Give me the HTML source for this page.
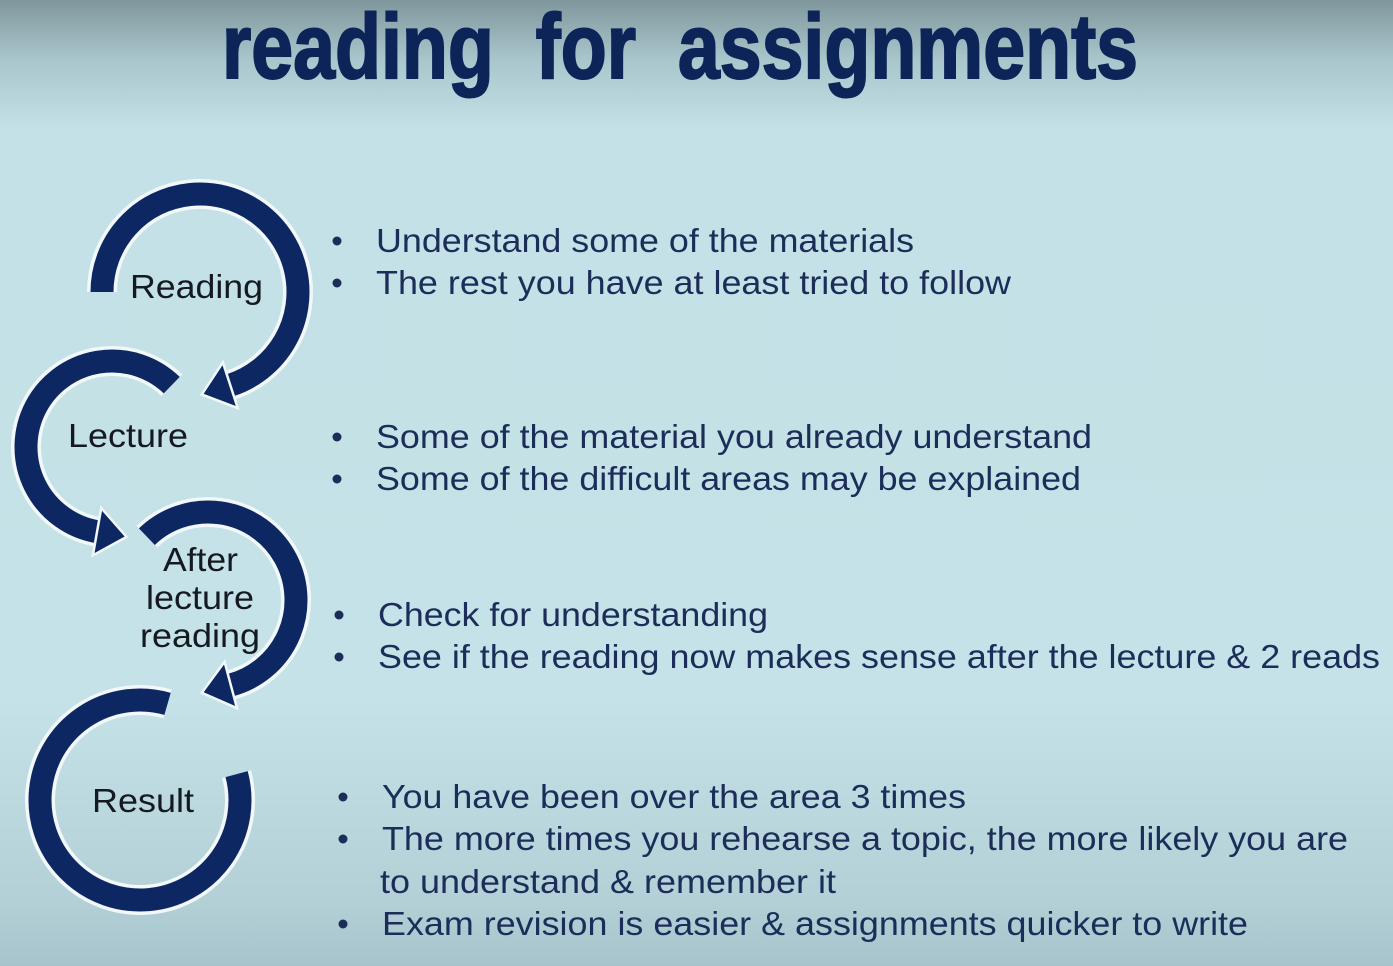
<!DOCTYPE html>
<html><head><meta charset="utf-8"><style>
html,body{margin:0;padding:0;width:1393px;height:966px;overflow:hidden}
body{background:linear-gradient(180deg,#7f979c 0px,#a9c6cc 60px,#c3e1e6 130px,#c4e2e7 700px,#b3d0d7 900px,#a7c4cc 966px)}
svg{position:absolute;left:0;top:0}
.b{font-family:"Liberation Sans",sans-serif;font-size:33px;fill:#1b2d58}
.l{font-family:"Liberation Sans",sans-serif;font-size:33px;fill:#151a22}
</style></head><body>
<svg width="1393" height="966">
<text x="222" y="78" textLength="916" lengthAdjust="spacingAndGlyphs" style="font-family:'Liberation Sans Narrow','Liberation Sans',sans-serif;font-weight:bold;font-size:92px;fill:#0c2458;stroke:#0c2458;stroke-width:2">reading&#160;&#160;for&#160;&#160;assignments</text>
<g id="arcs"></g>
<text class="l" x="130" y="298" textLength="133" lengthAdjust="spacingAndGlyphs">Reading</text>
<text class="l" x="68" y="447" textLength="120" lengthAdjust="spacingAndGlyphs">Lecture</text>
<text class="l" x="163" y="571" textLength="75" lengthAdjust="spacingAndGlyphs">After</text>
<text class="l" x="146" y="609" textLength="108" lengthAdjust="spacingAndGlyphs">lecture</text>
<text class="l" x="140" y="647" textLength="120" lengthAdjust="spacingAndGlyphs">reading</text>
<text class="l" x="92" y="812" textLength="102" lengthAdjust="spacingAndGlyphs">Result</text>
<g id="bullets"></g>
</svg>
<script>
const NS='http://www.w3.org/2000/svg';
const lines=[
["Understand some of the materials",252,376,538,true],
["The rest you have at least tried to follow",294,376,635,true],
["Some of the material you already understand",448,376,716,true],
["Some of the difficult areas may be explained",490,376,705,true],
["Check for understanding",626,378,390,true],
["See if the reading now makes sense after the lecture & 2 reads",668,378,1002,true],
["You have been over the area 3 times",808,382,584,true],
["The more times you rehearse a topic, the more likely you are",850,382,966,true],
["to understand & remember it",893,380,456,false],
["Exam revision is easier & assignments quicker to write",935,382,866,true]];
const bg=document.getElementById('bullets');
lines.forEach((L,i)=>{
 const t=document.createElementNS(NS,'text');
 t.setAttribute('class','b');t.setAttribute('x',L[2]);t.setAttribute('y',L[1]);
 t.setAttribute('textLength',L[3]);t.setAttribute('lengthAdjust','spacingAndGlyphs');
 t.textContent=L[0];
 
 
 bg.appendChild(t);
 if(L[4]){const c=document.createElementNS(NS,'circle');
  c.setAttribute('cx',L[2]-39);c.setAttribute('cy',L[1]-11);c.setAttribute('r',4.5);c.setAttribute('fill','#1b2d58');
  
  
  bg.appendChild(c);}
});
const g=document.getElementById('arcs');
function pt(cx,cy,r,a){a=a*Math.PI/180;return [cx+r*Math.cos(a),cy+r*Math.sin(a)];}
function arc(cx,cy,r,a0,a1,cw,arrow,name){
 const p0=pt(cx,cy,r,a0),p1=pt(cx,cy,r,a1);
 let sweep=cw?((a1-a0+360)%360):((a0-a1+360)%360);
 const d=`M${p0[0]},${p0[1]} A${r},${r} 0 ${sweep>180?1:0} ${cw?1:0} ${p1[0]},${p1[1]}`;
 [['#f2f8fa',30],['#0d2763',23]].forEach(([c,w])=>{
  const p=document.createElementNS(NS,'path');p.setAttribute('d',d);p.setAttribute('fill','none');
  p.setAttribute('stroke',c);p.setAttribute('stroke-width',w);
  
  
  g.appendChild(p);});
 if(arrow){
  const a=a1*Math.PI/180;
  let tx=-Math.sin(a),ty=Math.cos(a); if(!cw){tx=-tx;ty=-ty;}
  const nx=Math.cos(a),ny=Math.sin(a);
  const b1=[p1[0]+nx*24,p1[1]+ny*24],b2=[p1[0]-nx*24,p1[1]-ny*24],tip=[p1[0]+tx*30,p1[1]+ty*30];
  const pg=document.createElementNS(NS,'polygon');
  pg.setAttribute('points',[b1,tip,b2].map(q=>q.join(',')).join(' '));
  pg.setAttribute('fill','#0d2763');pg.setAttribute('stroke','#f2f8fa');pg.setAttribute('stroke-width','2.5');
  
  
  g.appendChild(pg);}
}
arc(112,447,86,314,100,false,true,'arc-lecture');
arc(200,292,98,180,72,true,true,'arc-reading');
arc(140,800,100,286,345,false,false,'arc-result');
arc(208,600,88,226,75,true,true,'arc-after-lecture');
</script>
</body></html>
